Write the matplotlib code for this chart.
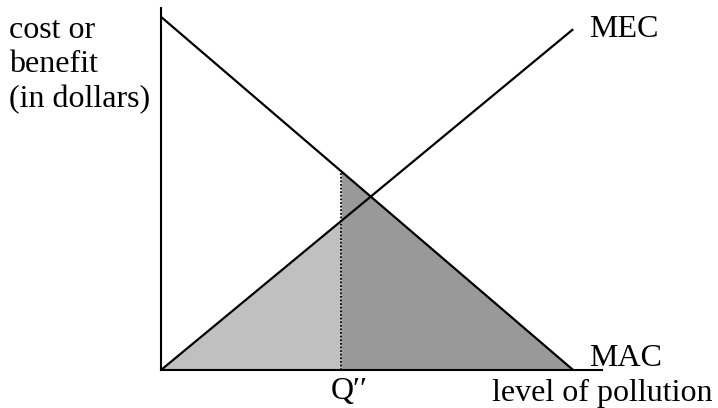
import numpy as np
import matplotlib.pyplot as plt

# curves (quantity of pollution on x, dollars on y)
mac_q = [0, 100]
mac_y = [100, 0]
mec_q = [0, 99.8]
mec_y = [0, 96.3]
q_pp = 43.7
x_max = 107
y_max = 102.5
ylabel_lines = ["cost or", "benefit", "(in dollars)"]

plt.rcParams['font.family'] = ['Liberation Serif', 'DejaVu Serif']

fig = plt.figure(figsize=(7.18, 4.08), dpi=100)
ax = fig.add_axes([161/718, 38/408, 441/718, 362/408])
ax.set_xlim(0, x_max)
ax.set_ylim(0, y_max)
for s in ['top', 'right']:
    ax.spines[s].set_visible(False)
for s in ['left', 'bottom']:
    ax.spines[s].set_linewidth(1.5)
ax.set_xticks([])
ax.set_yticks([])

def mac(q):
    return np.interp(q, mac_q, mac_y)

def mec(q):
    return np.interp(q, mec_q, mec_y)

# light area: under MEC left of Q''
ql = np.array([0, q_pp])
ax.fill_between(ql, 0, mec(ql), color='#c0c0c0', lw=0)
# dark area: under MAC right of Q''
qd = np.array([q_pp, mac_q[1]])
ax.fill_between(qd, 0, mac(qd), color='#999999', lw=0)

ax.plot(mac_q, mac_y, color='black', lw=1.6)
ax.plot(mec_q, mec_y, color='black', lw=1.6)
ax.plot([q_pp, q_pp], [0, mac(q_pp)], color='black', lw=1.3, ls=(0, (1, 1)))

fs = 23
def px(x, y):
    return x / 718, 1 - y / 408

for i, line in enumerate(ylabel_lines):
    fig.text(*px(9, 38 + 34.5 * i), line, fontsize=fs, va='baseline', ha='left')
fig.text(*px(589, 37), "MEC", fontsize=fs, va='baseline', ha='left')
fig.text(*px(589, 366), "MAC", fontsize=fs, va='baseline', ha='left')
fig.text(*px(349, 399), "Q\u2032\u2032", fontsize=fs, va='baseline', ha='center')
fig.text(*px(713, 401), "level of pollution", fontsize=fs, va='baseline', ha='right')

fig.savefig("out.png", dpi=100)
